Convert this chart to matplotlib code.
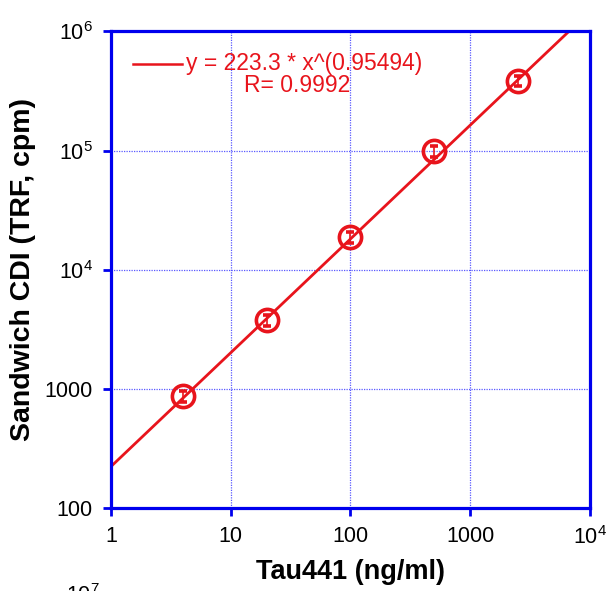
import matplotlib
matplotlib.use("Agg")
import matplotlib.pyplot as plt
import numpy as np

plt.rcParams['font.family'] = ['Liberation Sans', 'DejaVu Sans']
plt.rcParams['mathtext.default'] = 'regular'

# data
conc = [4, 20, 100, 500, 2500]              # Tau441, ng/ml
signal = [866, 3770, 18800, 98700, 384600]  # TRF, cpm
err = [90, 380, 1900, 10000, 38000]
fit_a = 223.3
fit_b = 0.95494
fit_r = 0.9992

red = '#e8141c'
blue = '#0000ee'

fig = plt.figure(figsize=(6.09, 5.91), dpi=100)
ax = fig.add_axes([0.182, 0.140, 0.787, 0.807])

xs = np.logspace(0, 4, 200)
ax.plot(xs, fit_a * xs ** fit_b, color=red, lw=2)
ax.errorbar(conc, signal, yerr=err, fmt='o', ms=16, mfc='none', mec=red,
            mew=2.6, ecolor=red, elinewidth=1.2, capsize=3, capthick=1.2)

ax.set_xscale('log')
ax.set_yscale('log')
ax.set_xlim(1, 1e4)
ax.set_ylim(100, 1e6)
ax.set_xticks([1, 10, 100, 1000, 1e4])
ax.set_xticklabels(['1', '10', '100', '1000', '10$^4$'])
ax.set_yticks([100, 1000, 1e4, 1e5, 1e6])
ax.set_yticklabels(['100', '1000', '10$^4$', '10$^5$', '10$^6$'])
ax.minorticks_off()
ax.tick_params(labelsize=15.5, length=6, width=2, color=blue, direction='out', pad=7)

ax.grid(True, color='#5a5aff', linestyle=(0, (1, 1)), lw=0.9)
for s in ax.spines.values():
    s.set_color(blue)
    s.set_linewidth(2.3)

ax.set_xlabel('Tau441 (ng/ml)', fontsize=19.5, fontweight='bold', labelpad=7)
ax.set_ylabel('Sandwich CDI (TRF, cpm)', fontsize=20.5, fontweight='bold', labelpad=6)

# legend entry as drawn in the original
ax.plot([1.53, 3.9], [5.31e5, 5.31e5], color=red, lw=1.8)
ax.text(4.2, 5.4e5, 'y = %.1f * x^(%.5f)' % (fit_a, fit_b), color=red,
        fontsize=16.5, va='center', ha='left')
ax.text(36, 3.5e5, 'R= %.4f' % fit_r, color=red, fontsize=16.5,
        va='center', ha='center')

# top of the next panel peeking in at the bottom (cut off, as in the original)
fig.text(0.108, 0.012, '10$^7$', fontsize=15.5, ha='left', va='top')

fig.savefig('out.png', dpi=100)
